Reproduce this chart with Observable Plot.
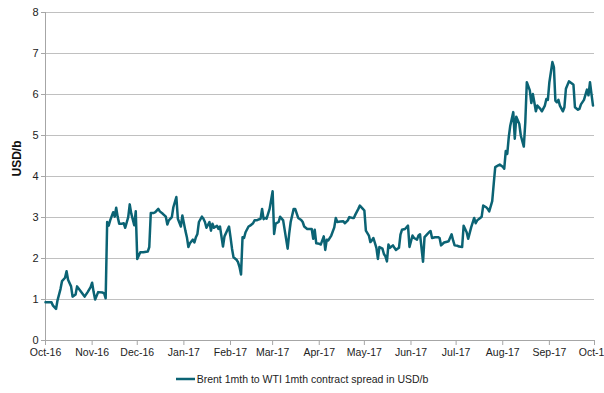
<!DOCTYPE html>
<html><head><meta charset="utf-8">
<script src="https://cdn.jsdelivr.net/npm/d3@7"></script>
<script src="https://cdn.jsdelivr.net/npm/@observablehq/plot@0.6"></script>
<style>
body{margin:0;background:#fff;font-family:"Liberation Sans",Arial,sans-serif;overflow:hidden;width:604px}
#legend{height:28px;display:flex;justify-content:center;align-items:center;font-size:10.5px;color:#222}
</style></head><body>
<div id="chart"></div>
<div id="legend"></div>
<script>
const seriesName = "Brent 1mth to WTI 1mth contract spread in USD/b";
const yLabel = "USD/b";
const yTicks = [0,1,2,3,4,5,6,7,8];
const xStart = "2016-10-01", xEnd = "2017-10-01";
const dates = [
"2016-10-01","2016-10-05","2016-10-06","2016-10-08","2016-10-09","2016-10-11","2016-10-12","2016-10-14","2016-10-15","2016-10-16",
"2016-10-18","2016-10-19","2016-10-21","2016-10-22","2016-10-24","2016-10-26","2016-10-27","2016-10-29","2016-10-31","2016-11-01",
"2016-11-02","2016-11-03","2016-11-05","2016-11-08","2016-11-09","2016-11-10","2016-11-11","2016-11-12","2016-11-13","2016-11-15",
"2016-11-16","2016-11-17","2016-11-18","2016-11-19","2016-11-21","2016-11-22","2016-11-23","2016-11-25","2016-11-26","2016-11-27",
"2016-11-29","2016-11-30","2016-12-01","2016-12-03","2016-12-05","2016-12-08","2016-12-09","2016-12-10","2016-12-12","2016-12-13",
"2016-12-15","2016-12-16","2016-12-18","2016-12-20","2016-12-21","2016-12-22","2016-12-24","2016-12-25","2016-12-27","2016-12-28",
"2016-12-30","2016-12-31","2017-01-02","2017-01-03","2017-01-04","2017-01-05","2017-01-07","2017-01-08","2017-01-09","2017-01-10",
"2017-01-11","2017-01-13","2017-01-14","2017-01-15","2017-01-16","2017-01-18","2017-01-19","2017-01-20","2017-01-21","2017-01-23",
"2017-01-24","2017-01-25","2017-01-27","2017-01-28","2017-01-31","2017-02-01","2017-02-02","2017-02-03","2017-02-05","2017-02-06",
"2017-02-07","2017-02-08","2017-02-09","2017-02-10","2017-02-11","2017-02-13","2017-02-14","2017-02-16","2017-02-17","2017-02-18",
"2017-02-19","2017-02-21","2017-02-22","2017-02-23","2017-02-24","2017-02-25","2017-02-27","2017-03-01","2017-03-02","2017-03-03",
"2017-03-05","2017-03-06","2017-03-08","2017-03-11","2017-03-12","2017-03-13","2017-03-15","2017-03-16","2017-03-18","2017-03-20",
"2017-03-21","2017-03-22","2017-03-24","2017-03-26","2017-03-27","2017-03-28","2017-03-29","2017-03-30","2017-04-01","2017-04-02",
"2017-04-04","2017-04-05","2017-04-06","2017-04-07","2017-04-09","2017-04-11","2017-04-12","2017-04-13","2017-04-15","2017-04-17",
"2017-04-18","2017-04-20","2017-04-21","2017-04-23","2017-04-24","2017-04-25","2017-04-27","2017-04-28","2017-04-30","2017-05-01",
"2017-05-02","2017-05-03","2017-05-04","2017-05-05","2017-05-06","2017-05-07","2017-05-09","2017-05-10","2017-05-11","2017-05-13",
"2017-05-14","2017-05-15","2017-05-16","2017-05-17","2017-05-18","2017-05-20","2017-05-21","2017-05-22","2017-05-24","2017-05-25",
"2017-05-26","2017-05-28","2017-05-29","2017-05-30","2017-05-31","2017-06-02","2017-06-03","2017-06-05","2017-06-06","2017-06-07",
"2017-06-09","2017-06-10","2017-06-12","2017-06-13","2017-06-14","2017-06-15","2017-06-17","2017-06-19","2017-06-20","2017-06-21",
"2017-06-23","2017-06-25","2017-06-26","2017-06-28","2017-06-29","2017-06-30","2017-07-02","2017-07-03","2017-07-05","2017-07-06",
"2017-07-07","2017-07-08","2017-07-09","2017-07-11","2017-07-13","2017-07-14","2017-07-15","2017-07-17","2017-07-18","2017-07-19",
"2017-07-21","2017-07-22","2017-07-23","2017-07-25","2017-07-26","2017-07-27","2017-07-29","2017-07-30","2017-08-01","2017-08-02",
"2017-08-03","2017-08-04","2017-08-05","2017-08-06","2017-08-08","2017-08-09","2017-08-10","2017-08-12","2017-08-13","2017-08-15",
"2017-08-16","2017-08-17","2017-08-19","2017-08-20","2017-08-21","2017-08-22","2017-08-23","2017-08-24","2017-08-26","2017-08-27",
"2017-08-29","2017-08-30","2017-08-31","2017-09-01","2017-09-03","2017-09-04","2017-09-05","2017-09-06","2017-09-07","2017-09-08",
"2017-09-10","2017-09-11","2017-09-12","2017-09-14","2017-09-16","2017-09-17","2017-09-18","2017-09-20","2017-09-21","2017-09-22",
"2017-09-24","2017-09-26","2017-09-27","2017-09-28","2017-09-29","2017-09-30"
];
const values = [
0.93,0.93,0.85,0.77,0.98,1.26,1.45,1.53,1.69,1.48,
1.32,1.07,1.12,1.32,1.22,1.12,1.07,1.18,1.30,1.41,
1.18,1.00,1.18,1.17,1.15,1.03,2.89,2.80,2.93,3.13,
3.02,3.24,3.01,2.85,2.85,2.86,2.75,3.01,3.32,3.10,
2.81,3.15,1.99,2.15,2.15,2.17,2.28,3.11,3.11,3.13,
3.21,3.15,3.09,3.02,2.83,2.93,3.01,3.25,3.50,2.97,
2.78,3.05,2.68,2.52,2.28,2.37,2.46,2.39,2.52,2.60,
2.89,3.02,2.97,2.89,2.75,2.89,2.68,2.85,2.75,2.80,
2.72,2.78,2.29,2.54,2.78,2.52,2.24,2.03,1.97,1.91,
1.79,1.61,2.52,2.50,2.64,2.78,2.80,2.86,2.93,2.93,
2.94,2.97,3.21,2.96,2.99,2.97,3.21,3.64,2.60,2.85,
2.89,3.02,2.93,2.24,2.60,2.89,3.21,3.21,2.99,2.94,
2.89,2.78,2.72,2.72,2.72,2.48,2.70,2.37,2.36,2.34,
2.54,2.21,2.46,2.44,2.56,2.76,2.99,2.89,2.90,2.91,
2.86,2.93,3.01,2.99,2.99,3.07,3.21,3.29,3.21,3.17,
2.68,2.62,2.56,2.40,2.44,2.50,2.26,1.99,2.28,2.24,
2.11,2.05,1.93,2.34,2.26,2.32,2.26,2.21,2.26,2.58,
2.70,2.72,2.76,2.80,2.28,2.56,2.50,2.46,2.56,2.59,
1.92,2.52,2.60,2.64,2.67,2.50,2.52,2.52,2.50,2.32,
2.39,2.41,2.42,2.59,2.44,2.32,2.31,2.29,2.28,2.80,
2.72,2.64,2.48,2.76,2.99,2.86,2.93,2.99,3.02,3.29,
3.25,3.21,3.15,3.40,3.82,4.23,4.27,4.29,4.24,4.19,
4.62,4.55,4.96,5.24,5.57,4.92,5.46,5.28,5.00,4.73,
5.33,6.30,6.10,5.79,6.01,5.81,5.59,5.73,5.65,5.59,
5.73,5.89,5.87,6.30,6.79,6.67,5.85,5.81,5.87,5.73,
5.59,5.69,6.14,6.32,6.27,6.24,5.69,5.63,5.65,5.76,
5.87,6.12,5.98,6.30,6.01,5.73
];

const parse = d3.utcParse("%Y-%m-%d");
const data = dates.map((d, i) => ({date: parse(d), value: values[i]}));
const x0 = parse(xStart), x1 = parse(xEnd);
const monthTicks = d3.utcMonth.range(x0, d3.utcDay.offset(x1, 1));
const lineColor = "#0b6374";
const gridColor = "#c0c0c0";
const axisColor = "#a6a6a6";

const chart = Plot.plot({
  width: 604, height: 365,
  marginLeft: 45, marginRight: 10, marginTop: 12, marginBottom: 25,
  style: {fontFamily: "'Liberation Sans', Arial, sans-serif", fontSize: "10.5px", color: "#222", background: "#fff"},
  x: {type: "utc", domain: [x0, x1], label: null},
  y: {domain: [0, 8], label: null},
  marks: [
    Plot.gridY(yTicks, {stroke: gridColor, strokeOpacity: 1}),
    Plot.ruleX([x0], {stroke: axisColor}),
    Plot.ruleY([0], {stroke: axisColor}),
    Plot.axisY(yTicks, {tickSize: 4, tickPadding: 3, stroke: axisColor, label: null, fontSize: 11}),
    Plot.axisX(monthTicks, {tickFormat: d3.utcFormat("%b-%y"), tickSize: 5, tickPadding: 3, stroke: axisColor, label: null}),
    Plot.lineY(data, {x: "date", y: "value", stroke: lineColor, strokeWidth: 2.5}),
    Plot.text([yLabel], {frameAnchor: "left", dx: -28, rotate: -90, fontWeight: "bold", fontSize: 12, fill: "#111"})
  ]
});
document.getElementById("chart").appendChild(chart);

const legend = document.getElementById("legend");
legend.innerHTML = `<svg width="19" height="4" style="display:block"><line x1="0" x2="19" y1="2" y2="2" stroke="${lineColor}" stroke-width="2.5"/></svg><span style="margin-left:2px">${seriesName}</span>`;
</script>
</body></html>
